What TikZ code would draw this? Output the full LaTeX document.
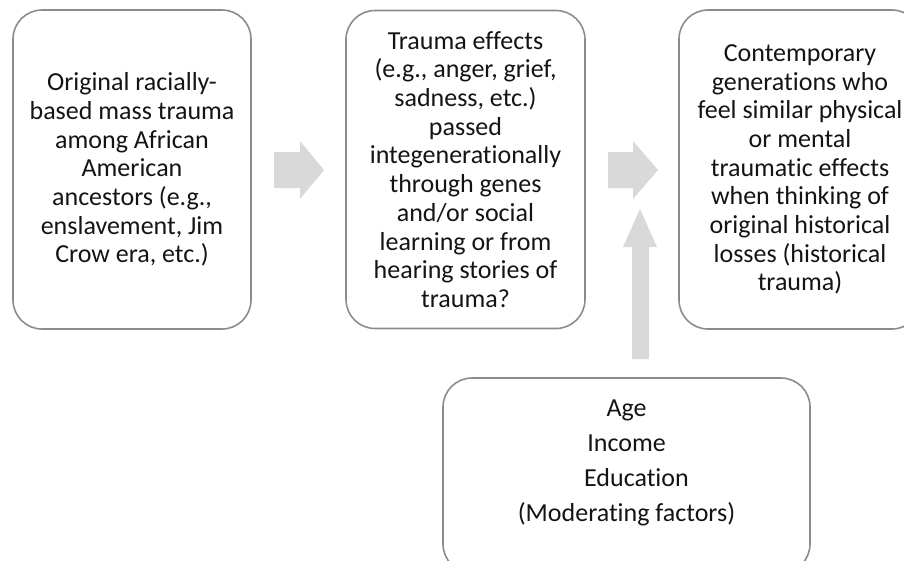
\documentclass[tikz,border=0pt]{standalone}
\usepackage{fontspec}
\setmainfont{Carlito}[Ligatures={NoCommon}]
\definecolor{boxline}{RGB}{140,140,140}
\definecolor{arrowfill}{RGB}{217,217,217}
\definecolor{txt}{RGB}{20,20,20}
\begin{document}
\begin{tikzpicture}[x=1pt,y=-1pt,
  box/.style={draw=boxline, line width=1.6pt, rounded corners=29pt, align=center,
    inner sep=0pt, text=txt, font=\fontsize{26}{28.7}\selectfont},
  blockarrow/.style={fill=arrowfill, draw=none}]
\useasboundingbox (0,0) rectangle (904,560);
\clip (0,0) rectangle (904,560);
\node[box, minimum width=238pt, minimum height=319pt] (b1) at (132,169.5)
  {Original racially-\\based mass trauma\\among African\\American\\ancestors (e.g.,\\enslavement, Jim\\Crow era, etc.)};
\node[box, minimum width=239pt, minimum height=318pt] (b2) at (465.5,169.5)
  {Trauma effects\\(e.g., anger, grief,\\sadness, etc.)\\passed\\integenerationally\\through genes\\and/or social\\learning or from\\hearing stories of\\trauma?};
\node[box, minimum width=242pt, minimum height=319pt] (b3) at (800,169.5)
  {Contemporary\\generations who\\feel similar physical\\or mental\\traumatic effects\\when thinking of\\original historical\\losses (historical\\trauma)};
\node[box, minimum width=367pt, minimum height=195pt] (b4) at (626.5,475.5) {};
\node[align=center, inner sep=0pt, text=txt, font=\fontsize{26}{35}\selectfont] (t4) at (626.5,463)
  {Age\\Income\\\hspace*{20pt}Education\\(Moderating factors)};
% block arrows
\fill[blockarrow] (274,152) -- (300,152) -- (300,141) -- (324,170) -- (300,199) -- (300,188) -- (274,188) -- cycle;
\fill[blockarrow] (608,152) -- (633,152) -- (633,141) -- (658,170) -- (633,199) -- (633,188) -- (608,188) -- cycle;
\fill[blockarrow] (632,359) -- (632,247) -- (623,247) -- (640,209) -- (657,247) -- (649,247) -- (649,359) -- cycle;
\end{tikzpicture}
\end{document}
